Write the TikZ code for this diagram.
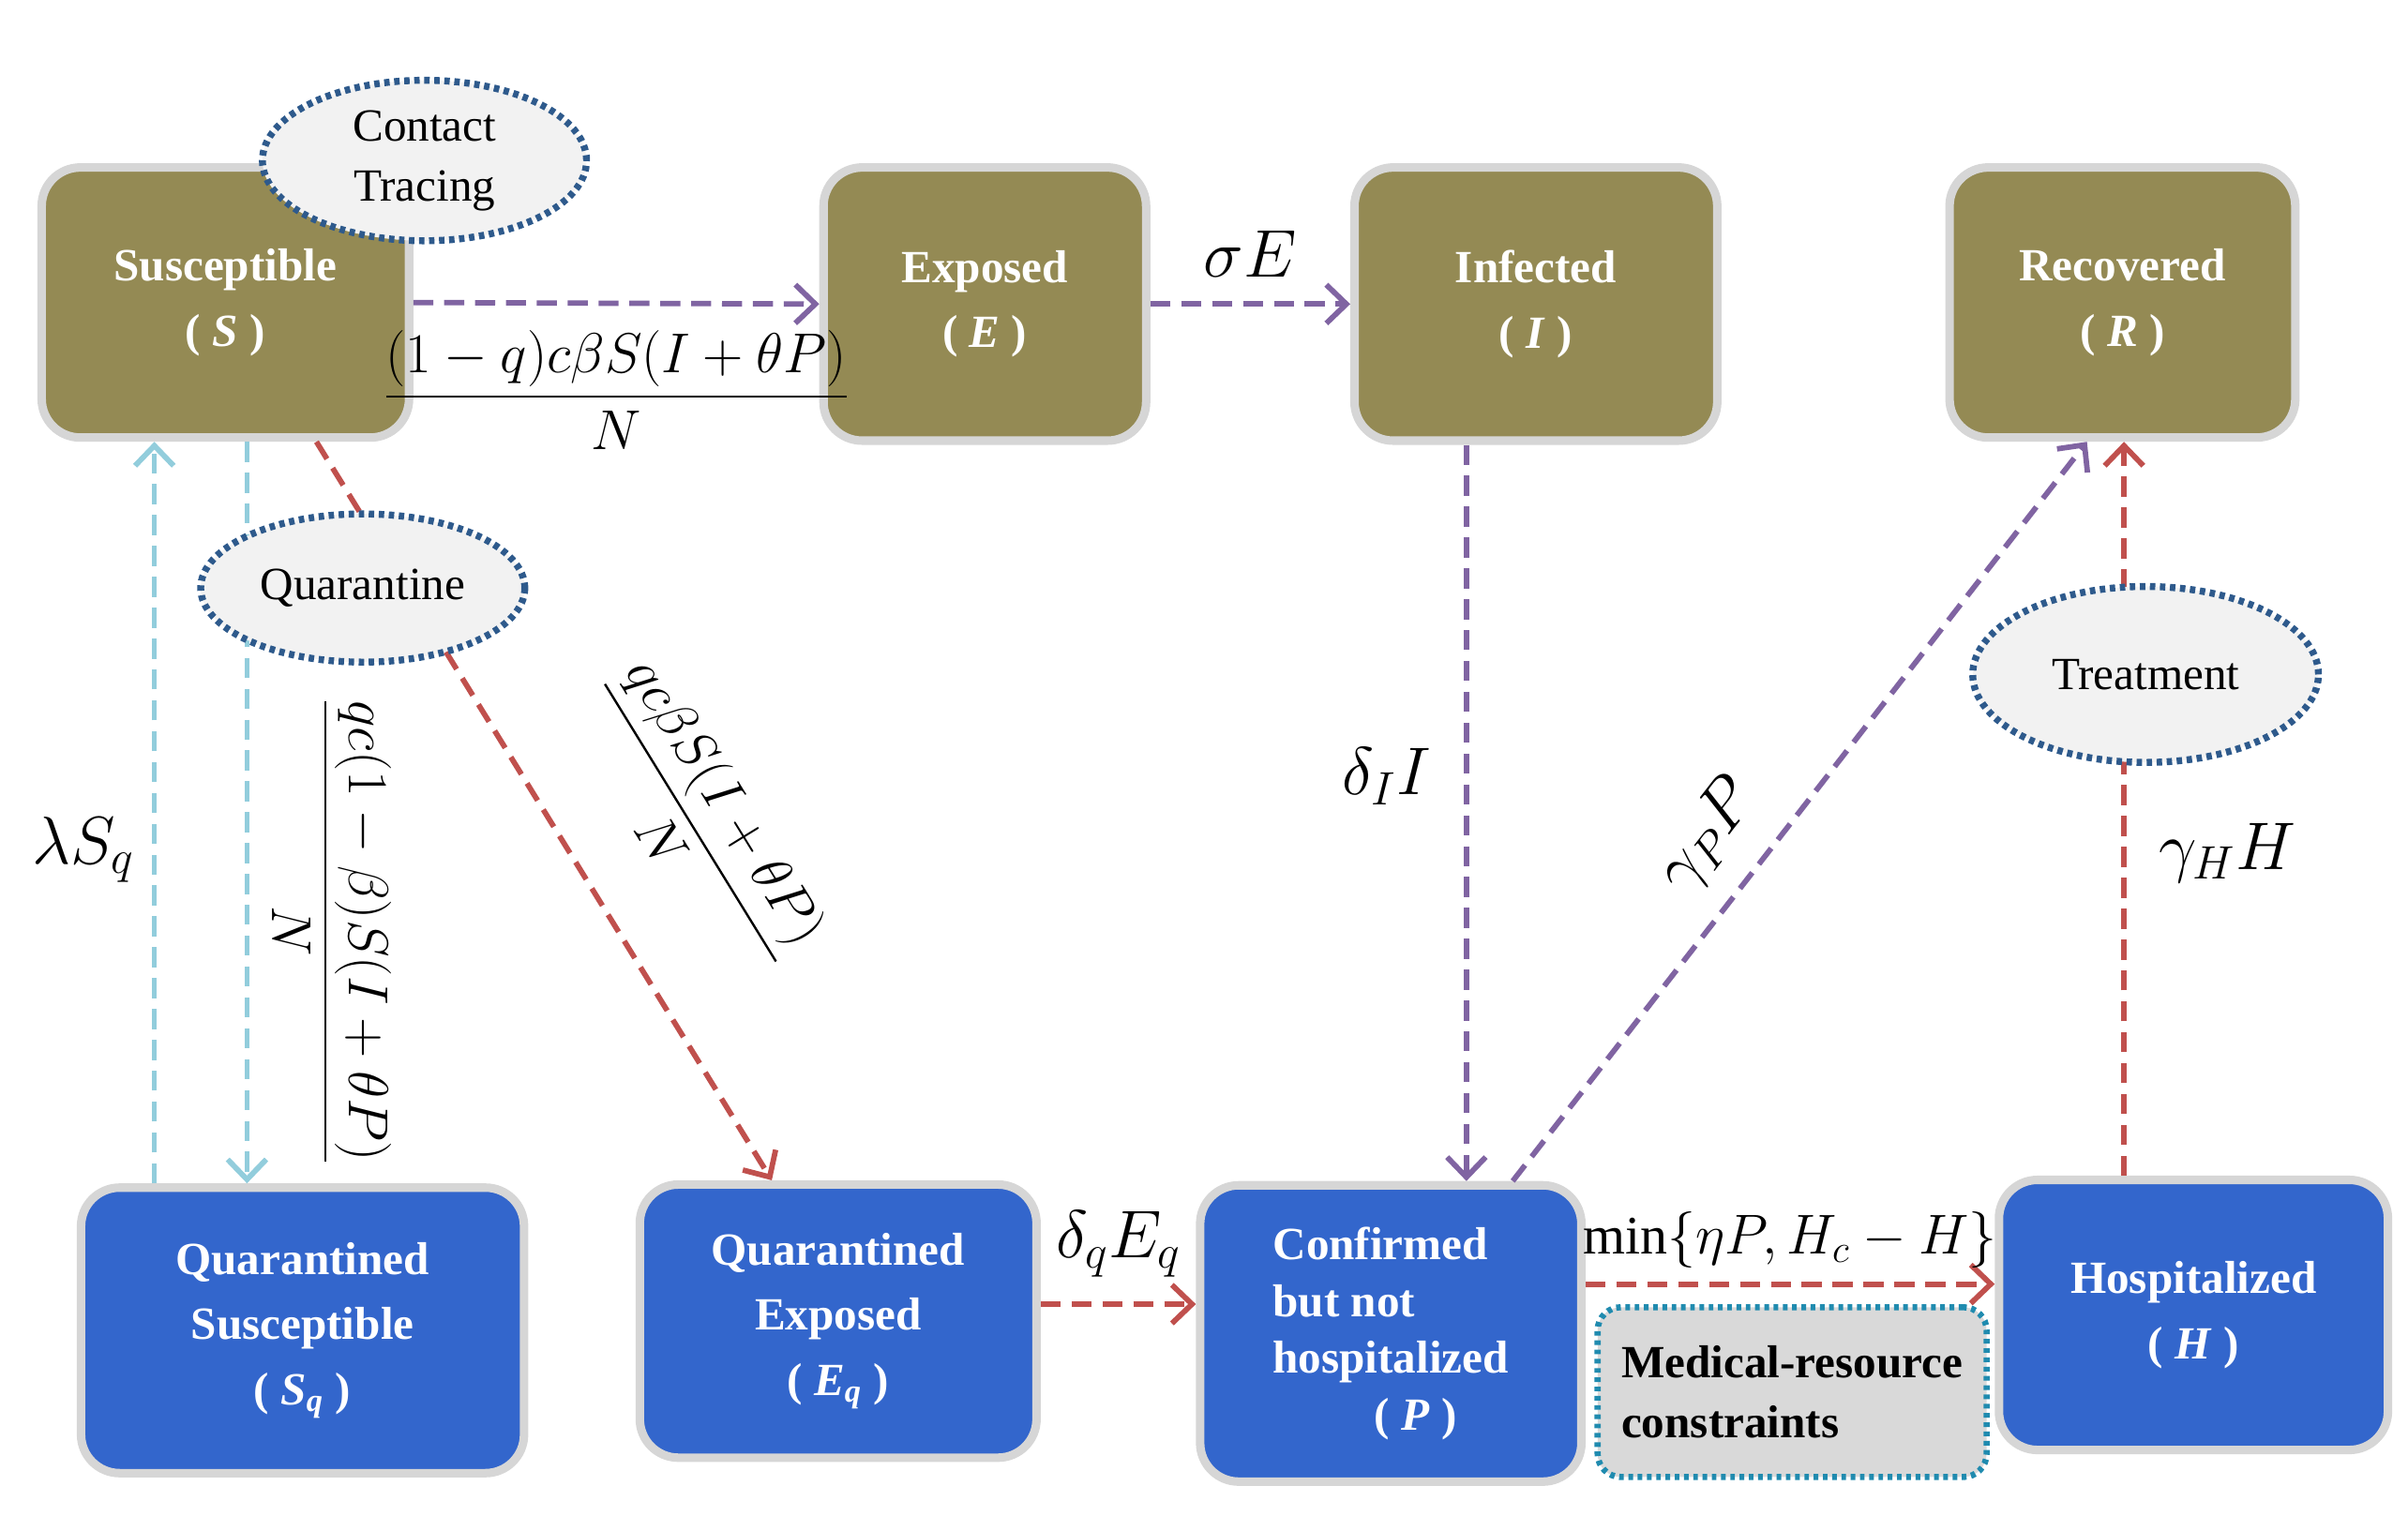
\documentclass[tikz,border=0pt]{standalone}
\usepackage{fontspec}
\setmainfont{Liberation Serif}
\usepackage{amsmath}
\usetikzlibrary{arrows.meta,shapes.geometric}
\definecolor{olivebox}{HTML}{948A54}
\definecolor{bluebox}{HTML}{3366CC}
\definecolor{rimgray}{HTML}{D6D6D6}
\definecolor{flowpurple}{HTML}{8064A2}
\definecolor{flowred}{HTML}{C0504D}
\definecolor{flowcyan}{HTML}{92CDDC}
\definecolor{ringblue}{HTML}{2E5A8C}
\tikzset{
  box/.style={rectangle,rounded corners=5mm,draw=rimgray,line width=1.1mm,text=white,
    font=\fontsize{17}{24}\selectfont\bfseries,align=center,inner sep=0pt},
  stage/.style={box,fill=olivebox},
  quar/.style={box,fill=bluebox},
  ring/.style={ellipse,draw=ringblue,fill=black!5,line width=0.9mm,
    dash pattern=on 0.7mm off 0.6mm,font=\fontsize{17}{22}\selectfont,align=center,inner sep=0pt},
  flow/.style={line width=0.7mm,dash pattern=on 2.6mm off 1.4mm,
    -{Straight Barb[length=2.6mm,width=5mm,line width=0.7mm]}},
  lab/.style={text=black,font=\fontsize{20}{24}\selectfont},
  biglab/.style={text=black,font=\fontsize{24}{28}\selectfont}
}
\begin{document}
\begin{tikzpicture}[x=0.2mm,y=-0.2mm]
\useasboundingbox (0,0) rectangle (1560,982);

% compartments
\node[stage,minimum width=238*0.2mm,minimum height=175*0.2mm] (S) at (146,196) {Susceptible\\( \textit{S} )};
\node[stage,minimum width=209*0.2mm,minimum height=177*0.2mm] (E) at (638,197) {Exposed\\( \textit{E} )};
\node[stage,minimum width=235*0.2mm,minimum height=177*0.2mm] (I) at (995,197) {Infected\\( \textit{I} )};
\node[stage,minimum width=224*0.2mm,minimum height=175*0.2mm] (R) at (1375,196) {Recovered\\( \textit{R} )};

\node[quar,minimum width=287*0.2mm,minimum height=185*0.2mm] (Sq) at (196,862) {Quarantined\\Susceptible\\( \textit{S\textsubscript{q}} )};
\node[quar,minimum width=257*0.2mm,minimum height=177*0.2mm] (Eq) at (543,856) {Quarantined\\Exposed\\( \textit{E\textsubscript{q}} )};
\node[quar,minimum width=247*0.2mm,minimum height=192*0.2mm,align=left,font=\fontsize{17}{21}\selectfont\bfseries] (P) at (901,864) {Confirmed\\but not\\hospitalized\\\hspace*{2.2em}( \textit{P} )};
\node[quar,minimum width=252*0.2mm,minimum height=175*0.2mm] (H) at (1421,852) {Hospitalized\\( \textit{H} )};

\node[rectangle,rounded corners=3mm,fill=black!15,draw=ringblue!70!cyan,line width=0.8mm,
  dash pattern=on 0.6mm off 0.6mm,minimum width=252*0.2mm,minimum height=110*0.2mm,
  font=\fontsize{17}{22}\selectfont\bfseries,align=left] (M) at (1161,902) {Medical-resource\\constraints};

% contact tracing sits on the box
\node[ring,minimum width=210*0.2mm,minimum height=104*0.2mm] (CT) at (275,104) {Contact\\Tracing};

% column helpers
\coordinate (xa) at (100,0);
\coordinate (xb) at (160,0);
\coordinate (xc) at (205,0);
\coordinate (xd) at (500,0);
\coordinate (xe) at (950,0);
\coordinate (xf) at (980,0);
\coordinate (xg) at (1352,0);
\coordinate (xh) at (1376,0);
\coordinate (ya) at (0,845);
\coordinate (yb) at (0,832);

% flows
\draw[flow,flowpurple] (S.east) -- (E.west)
  node[midway,below=2mm,lab] {$\dfrac{(1-q)c\beta S(I+\theta P)}{N}$};
\draw[flow,flowpurple] (E.east) -- (I.west) node[midway,above=2mm,biglab] {$\sigma E$};
\draw[flow,flowpurple] (I.south -| xe) -- (P.north -| xe) node[pos=0.45,left=3mm,biglab] {$\delta_I I$};
\draw[flow,flowpurple] (P.north -| xf) -- (R.south -| xg) node[pos=0.42,sloped,above=2mm,biglab] {$\gamma_P P$};
\draw[flow,flowred] (H.north -| xh) -- (R.south -| xh) node[pos=0.44,right=3mm,biglab] {$\gamma_H H$};
\draw[flow,flowred] (P.east |- yb) -- (H.west |- yb) node[midway,above=0.5mm,lab,font=\fontsize{20}{24}\selectfont] {$\min\{\eta P,H_c-H\}$};
\draw[flow,flowred] (Eq.east |- ya) -- (P.west |- ya) node[midway,above=2mm,biglab] {$\delta_q E_q$};
\draw[flow,flowred] (S.south -| xc) -- (Eq.north -| xd)
  node[pos=0.6,sloped,above=7mm,lab] {$\dfrac{qc\beta S(I+\theta P)}{N}$};
\draw[flow,flowcyan] (Sq.north -| xa) -- (S.south -| xa) node[pos=0.45,left=1mm,biglab] {$\lambda S_q$};
\draw[flow,flowcyan] (S.south -| xb) -- (Sq.north -| xb)
  node[pos=0.66,xshift=11mm,lab,rotate=-90] {$\dfrac{qc(1-\beta)S(I+\theta P)}{N}$};

% measures drawn over the flows
\node[ring,minimum width=210*0.2mm,minimum height=96*0.2mm] (Q) at (235,381) {Quarantine};
\node[ring,minimum width=224*0.2mm,minimum height=114*0.2mm] (T) at (1390,437) {Treatment};
\end{tikzpicture}
\end{document}
